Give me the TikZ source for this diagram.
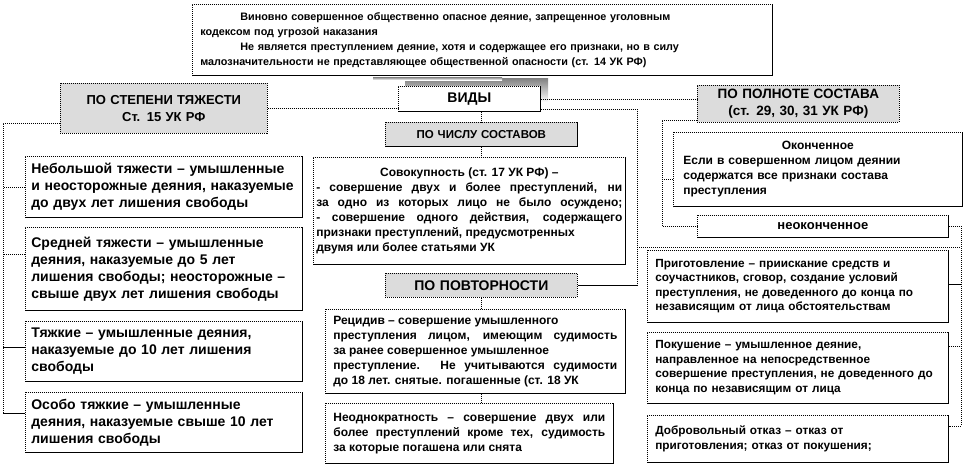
\documentclass[tikz,border=0pt]{standalone}
\usepackage{fontspec}
\setmainfont{Liberation Sans}
\usetikzlibrary{calc}
\definecolor{tagfill}{RGB}{220,220,220}
\definecolor{shade}{RGB}{165,165,165}
\tikzset{
  fs/.style 2 args = {font=\fontsize{#1}{#2}\selectfont\bfseries},
  card/.style  = {draw, line width=0.7pt, dash pattern=on 1pt off 1pt, fill=white,
                  anchor=north west, align=left, inner xsep=8pt, inner ysep=2pt},
  just/.style  = {card, align=justify},
  tag/.style   = {card, fill=tagfill, align=center},
  link/.style  = {draw, line width=0.6pt, dash pattern=on 1pt off 1pt},
  wire/.style  = {draw, line width=0.6pt},
}

\begin{document}
\begin{tikzpicture}[x=1pt, y=-1pt]
\useasboundingbox (0,0) rectangle (964,466);

% shadows
\fill[shade] (405,78) rectangle (548,102);
\fill[shade] (373,77) rectangle (502,80);

% definition on top
\node[card, fs={10.8}{15}, text width=564pt, minimum height=71pt] (def) at (192,4)
  {\hspace*{40pt}Виновно совершенное общественно опасное деяние, запрещенное уголовным\\
   кодексом под угрозой наказания\\
   \hspace*{40pt}Не является преступлением деяние, хотя и содержащее его признаки, но в силу\\
   малозначительности не представляющее общественной опасности (ст. 14 УК РФ)};

\node[card, fs={14}{16}, align=center, text width=126pt, minimum height=25pt] (vidy) at (398,86) {ВИДЫ};

% headers
\node[tag, fs={13}{17}, text width=191pt, minimum height=50pt] (stepen) at (60,83)
  {ПО СТЕПЕНИ ТЯЖЕСТИ\\Ст. 15 УК РФ};
\node[tag, fs={11.5}{14}, text width=176pt, minimum height=24pt] (chislo) at (385,122)
  {ПО ЧИСЛУ СОСТАВОВ};
\node[tag, fs={14}{15}, text width=176pt, minimum height=24pt] (povtor) at (385,273)
  {ПО ПОВТОРНОСТИ};
\node[tag, fs={13.5}{17}, inner xsep=4pt, text width=194pt, minimum height=37pt] (polnota) at (697,85)
  {ПО ПОЛНОТЕ СОСТАВА\\(ст. 29, 30, 31 УК РФ)};

% by gravity
\node[card, fs={14}{17}, inner xsep=6pt, text width=265pt, minimum height=61pt] (small1) at (25,156)
  {Небольшой тяжести – умышленные\\и неосторожные деяния, наказуемые\\до двух лет лишения свободы};
\node[card, fs={14}{17}, inner xsep=6pt, text width=265pt, minimum height=83pt] (small2) at (25,227)
  {Средней тяжести – умышленные\\деяния, наказуемые до 5 лет\\лишения свободы; неосторожные –\\свыше двух лет лишения свободы};
\node[card, fs={14}{17}, inner xsep=6pt, text width=265pt, minimum height=60pt] (grave) at (25,321)
  {Тяжкие – умышленные деяния,\\наказуемые до 10 лет лишения\\свободы};
\node[card, fs={14}{17}, inner xsep=6pt, text width=265pt, minimum height=60pt] (vgrave) at (25,392)
  {Особо тяжкие – умышленные\\деяния, наказуемые свыше 10 лет\\лишения свободы};

% middle column
\node[just, fs={12}{15}, inner xsep=3pt, text width=306pt, minimum height=107pt] (sovok) at (313,157)
  {\rightskip=6pt\hbox to \hsize{\hfil Совокупность (ст. 17 УК РФ) –\hfil}
   - совершение двух и более преступлений, ни\linebreak
   за одно из которых лицо не было осуждено;\linebreak
   - совершение одного действия, содержащего\linebreak
   признаки преступлений, предусмотренных\\
   двумя или более статьями УК};
\node[just, fs={12}{15}, text width=284pt, minimum height=84pt] (recid) at (325,309)
  {\rightskip=15pt Рецидив – совершение умышленного\\
   преступления лицом, имеющим судимость\linebreak
   за ранее совершенное умышленное\\
   преступление. Не учитываются судимости\linebreak
   до 18 лет. снятые. погашенные (ст. 18 УК};
\node[just, fs={12}{15}, text width=272pt, minimum height=60pt] (neodn) at (325,403)
  {Неоднократность – совершение двух или\linebreak
   более преступлений кроме тех, судимость\linebreak
   за которые погашена или снята};

% by completeness
\node[card, fs={12}{15}, inner xsep=10pt, text width=269pt, minimum height=74pt] (okonch) at (673,132)
  {\hbox to \hsize{\hfil Оконченное\hfil}
   Если в совершенном лицом деянии\\содержатся все признаки состава\\преступления};
\node[card, fs={13}{14}, align=center, text width=235pt, minimum height=22pt] (neokonch) at (697,215)
  {неоконченное};
\node[card, fs={11.8}{14.5}, inner xsep=8pt, text width=285pt, minimum height=72pt] (prigot) at (647,250)
  {Приготовление – приискание средств и\\соучастников, сговор, создание условий\\преступления, не доведенного до конца по\\независящим от лица обстоятельствам};
\node[card, fs={11.8}{14.5}, inner xsep=8pt, text width=285pt, minimum height=71pt] (pokush) at (647,332)
  {Покушение – умышленное деяние,\\направленное на непосредственное\\совершение преступления, не доведенного до\\конца по независящим от лица};
\node[card, fs={11.8}{14.5}, inner xsep=8pt, text width=285pt, minimum height=47pt] (dobrov) at (647,415)
  {Добровольный отказ – отказ от\\приготовления; отказ от покушения;};

% solid lower and right edges
\foreach \n in {def,vidy,chislo,small1,small2,grave,vgrave,sovok,recid,neodn,okonch,neokonch,prigot,pokush,dobrov}
  \draw[line width=0.9pt] (\n.south west) -- (\n.south east) -- (\n.north east);

% bars
\coordinate (lbar) at (3,0);
\coordinate (mbar) at (637,0);
\coordinate (pbar) at (662,0);
\coordinate (rbar) at (961,0);

% left bracket
\foreach \n/\dy in {small1/0,small2/15,grave/4,vgrave/9}
  \coordinate (at\n) at ([yshift=\dy pt]\n.west);
\draw[link] ([yshift=-15pt]stepen.west) -| (lbar |- atvgrave);
\draw[link] (atsmall1) -- (atsmall1 -| lbar);
\draw[link] (atsmall2) -- (atsmall2 -| lbar);
\draw[wire] (atgrave) -- (atgrave -| lbar);
\draw[wire] (atvgrave) -- (atvgrave -| lbar);

% from the types
\draw[link] (stepen.east) -- (stepen.east -| vidy.west);
\draw[link] (vidy.east) -- (vidy.east -| polnota.west);
\draw[link] ([yshift=-10pt]vidy.east) -| (mbar |- povtor.east);
\draw[wire] (mbar |- povtor.east) -- (povtor.east);
\coordinate (cross) at (637,247);
\draw[link] (cross) -- (cross -| rbar);
\draw[link] (chislo.north |- vidy.south) -- (chislo.north);
\draw[link] (chislo.south) -- (chislo.south |- sovok.north);
\draw[link] (povtor.south) -- (povtor.south |- recid.north);
\draw[link] (povtor.south |- recid.south) -- (povtor.south |- neodn.north);

% completeness brackets
\draw[link] ([yshift=-16pt]polnota.west) -| (pbar |- neokonch.west) -- (neokonch.west);
\coordinate (atok) at ([yshift=-10pt]okonch.west);
\draw[link] (atok) -- (atok -| pbar);
\coordinate (atprig) at ([yshift=2pt]prigot.east);
\coordinate (atpok) at ([yshift=22pt]pokush.east);
\coordinate (atdob) at ([yshift=13pt]dobrov.east);
\draw[link] (neokonch.east) -| (rbar |- atdob) -- (atdob);
\draw[wire] (atprig) -- (atprig -| rbar);
\draw[link] (atpok) -- (atpok -| rbar);
\end{tikzpicture}
\end{document}
